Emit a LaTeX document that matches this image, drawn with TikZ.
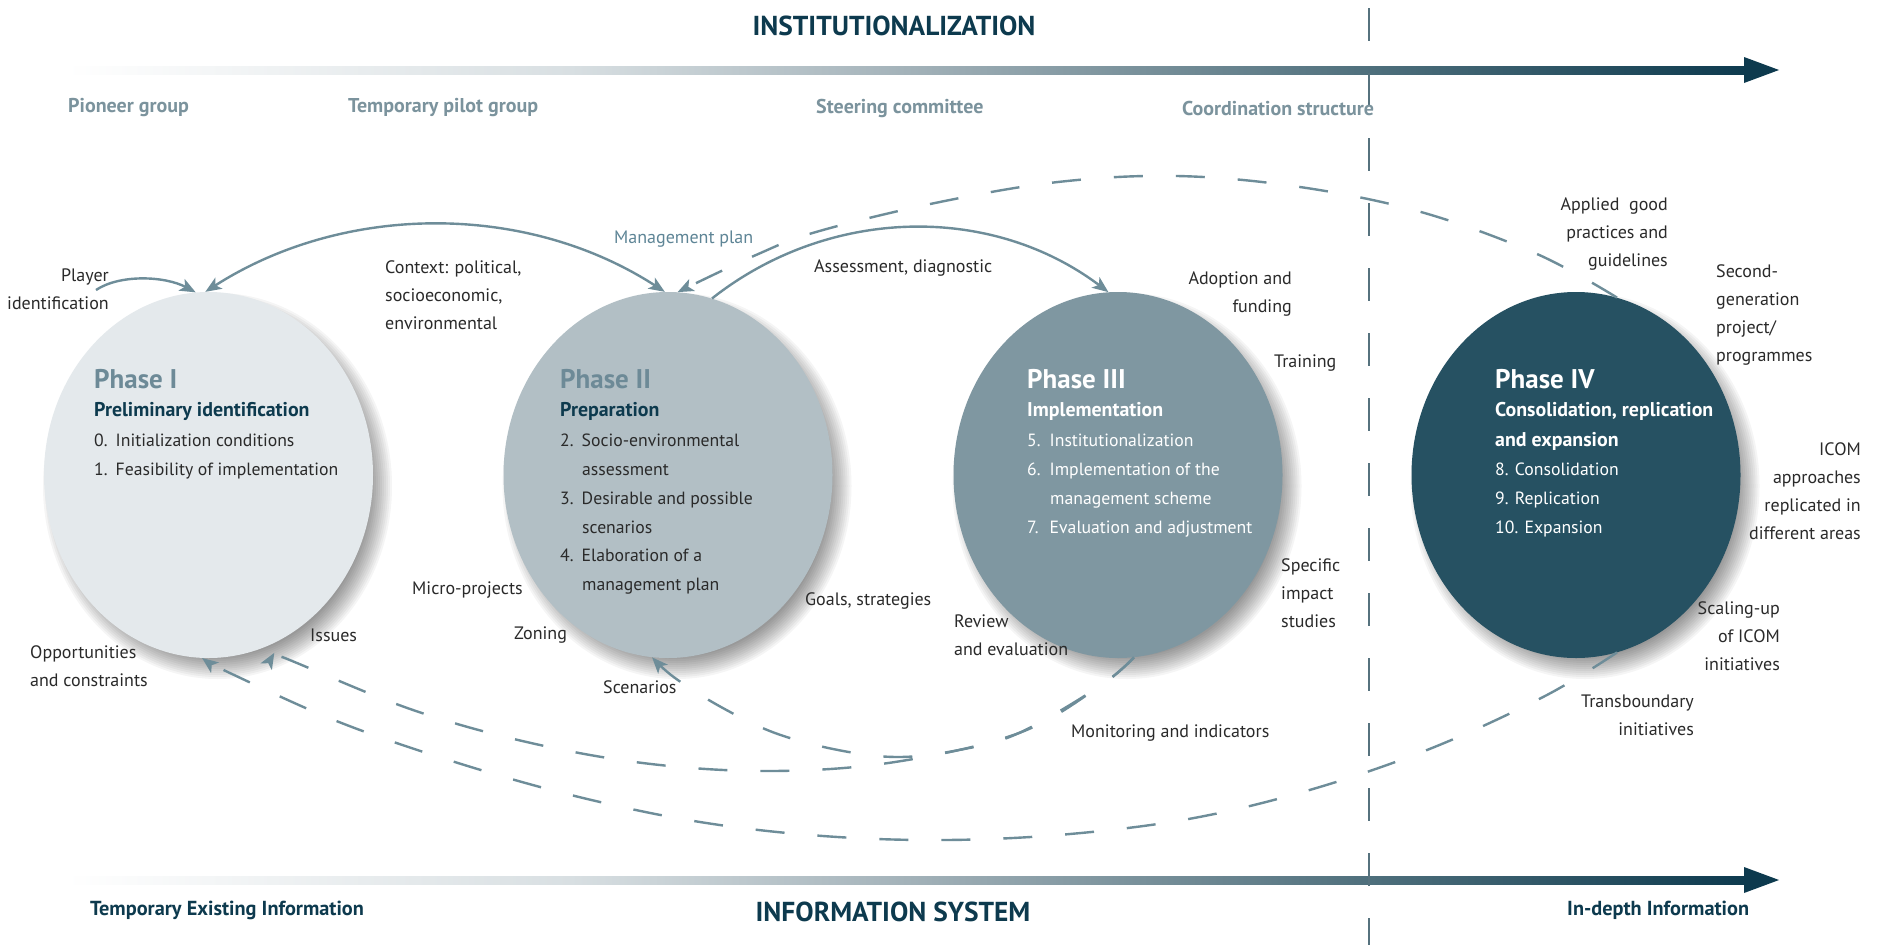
\documentclass[tikz,border=0pt]{standalone}
\usepackage{fontspec}
\setmainfont{PT Sans}
\usetikzlibrary{shapes.geometric,arrows.meta}
\definecolor{navy}{HTML}{0D3A4E}
\definecolor{topl}{HTML}{7B939D}
\definecolor{lnc}{HTML}{6E8D99}
\definecolor{vln}{HTML}{56727E}
\definecolor{pone}{HTML}{E4E9EC}
\definecolor{ptwo}{HTML}{B2BFC5}
\definecolor{pthree}{HTML}{7F97A1}
\definecolor{pfour}{HTML}{265162}
\definecolor{ttl}{HTML}{6D8A97}
\definecolor{txt}{HTML}{2A2A2A}
\definecolor{mgmt}{HTML}{5E8596}
\definecolor{barA}{HTML}{D8DFE2}
\definecolor{barB}{HTML}{A3B2B9}
\definecolor{barC}{HTML}{4D6E7B}
\pgfdeclarehorizontalshading{barshade}{100bp}{color(0bp)=(white); color(25bp)=(white); color(40bp)=(barA); color(50bp)=(barB); color(64bp)=(barC); color(75bp)=(navy); color(100bp)=(navy)}
\tikzset{
  phase/.style={ellipse, minimum width=329pt, minimum height=366pt, inner sep=0pt},
  shadowlayer/.style={fill=black, opacity=0.04},
  cline/.style={draw=lnc, line width=2.4pt},
  tipend/.style={-{Stealth[length=16pt,width=13pt,inset=4pt]}},
  dsh/.style={dash pattern=on 29pt off 33pt},
  lbl/.style={font=\fontsize{18}{28}\selectfont, text=txt, inner sep=0pt},
  toplbl/.style={font=\fontsize{20}{24}\selectfont\bfseries, text=topl, inner sep=0pt, anchor=west},
  botlbl/.style={font=\fontsize{20.3}{24}\selectfont\bfseries, text=navy, inner sep=0pt, anchor=west},
  bigttl/.style={font=\fontsize{27.4}{32}\selectfont\bfseries, text=navy, inner sep=0pt},
  phtitle/.style={font=\fontsize{27}{32}\selectfont\bfseries, inner sep=0pt, anchor=base west},
  phsub/.style={font=\fontsize{19.9}{29}\selectfont\bfseries, inner sep=0pt, anchor=base west},
  phitem/.style={font=\fontsize{17.7}{29}\selectfont, inner sep=0pt, anchor=base west},
}
\begin{document}
\begin{tikzpicture}[x=1pt,y=-1pt]
\fill[white] (0,0) rectangle (1881,945);
\useasboundingbox (0,0) rectangle (1881,945);

% gradient bars
\shade[shading=barshade] (66,66) rectangle (1748,74);
\fill[navy] (1744,57) -- (1779,70) -- (1744,83) -- cycle;
\shade[shading=barshade] (66,876) rectangle (1748,884);
\fill[navy] (1744,867) -- (1779,880) -- (1744,893) -- cycle;

% vertical dashed line
\coordinate (vt) at (1369,8);
\coordinate (vb) at (1369,945);
\draw[vln, line width=2pt, dash pattern=on 33pt off 32pt] (vt) -- (vb);

% titles
\node[bigttl] (inst) at (894,26) {INSTITUTIONALIZATION};
\node[bigttl] (infs) at (893,912) {INFORMATION SYSTEM};
\node[toplbl] (pion) at (68,108) {Pioneer group};
\node[toplbl] (tpg) at (348,108) {Temporary pilot group};
\node[toplbl] (stc) at (816,108) {Steering committee};
\node[toplbl] (cst) at (1182,108) {Coordination structure};
\node[botlbl] (tei) at (90,910) {Temporary Existing Information};
\node[botlbl] (idi) at (1567,910) {In-depth Information};

% soft shadows
\foreach \cx in {208.5,668,1118,1576} {
  \foreach \k in {0,...,11} {
    \fill[shadowlayer] (\cx+9,486) ellipse [x radius={174.5-2*\k}, y radius={193-2*\k}];
  }
}

% phases
\node[phase, fill=pone] (ph1) at (208.5,475) {};
\node[phase, fill=ptwo] (ph2) at (668,475) {};
\node[phase, fill=pthree] (ph3) at (1118,475) {};
\node[phase, fill=pfour] (ph4) at (1576,475) {};

% phase I text
\node[phtitle, text=ttl] (p1t) at (94,388) {Phase I};
\node[phsub, text=navy] (p1s) at (94,416) {Preliminary identification};
\node[phitem, text=txt] (p1a) at (94,446) {\makebox[21.5pt][l]{0.}Initialization conditions};
\node[phitem, text=txt] (p1b) at (94,475) {\makebox[21.5pt][l]{1.}Feasibility of implementation};
% phase II text
\node[phtitle, text=ttl] (p2t) at (560,388) {Phase II};
\node[phsub, text=navy] (p2s) at (560,416) {Preparation};
\node[phitem, text=txt] (p2a) at (560,446) {\makebox[21.5pt][l]{2.}Socio-environmental};
\node[phitem, text=txt] (p2b) at (582,475) {assessment};
\node[phitem, text=txt] (p2c) at (560,504) {\makebox[21.5pt][l]{3.}Desirable and possible};
\node[phitem, text=txt] (p2d) at (582,533) {scenarios};
\node[phitem, text=txt] (p2e) at (560,561) {\makebox[21.5pt][l]{4.}Elaboration of a};
\node[phitem, text=txt] (p2f) at (582,590) {management plan};
% phase III text
\node[phtitle, text=white] (p3t) at (1027,388) {Phase III};
\node[phsub, text=white] (p3s) at (1027,416) {Implementation};
\node[phitem, text=white] (p3a) at (1027,446) {\makebox[22.5pt][l]{5.}Institutionalization};
\node[phitem, text=white] (p3b) at (1027,475) {\makebox[22.5pt][l]{6.}Implementation of the};
\node[phitem, text=white] (p3c) at (1050,504) {management scheme};
\node[phitem, text=white] (p3d) at (1027,533) {\makebox[22.5pt][l]{7.}Evaluation and adjustment};
% phase IV text
\node[phtitle, text=white] (p4t) at (1495,388) {Phase IV};
\node[phsub, text=white] (p4s) at (1495,416) {Consolidation, replication};
\node[phsub, text=white] (p4u) at (1495,446) {and expansion};
\node[phitem, text=white] (p4a) at (1495,475) {8. Consolidation};
\node[phitem, text=white] (p4b) at (1495,504) {9. Replication};
\node[phitem, text=white] (p4c) at (1495,533) {10. Expansion};

% labels
\node[lbl, align=right, anchor=east] (plr) at (109,289) {Player\\identification};
\node[lbl, align=left, anchor=west] (ctx) at (385,295) {Context: political,\\socioeconomic,\\environmental};
\node[lbl, anchor=west, text=mgmt] (mpl) at (614,239) {Management plan};
\node[lbl, anchor=west] (asd) at (814,268) {Assessment, diagnostic};
\node[lbl, align=right, anchor=east] (adf) at (1292,294) {Adoption and\\funding};
\node[lbl, anchor=west] (trn) at (1274,363) {Training};
\node[lbl, align=left, anchor=west] (sis) at (1281,593) {Specific\\impact\\studies};
\node[lbl, align=left, anchor=west] (rev) at (954,635) {Review\\and evaluation};
\node[lbl, anchor=west] (mon) at (1071,733) {Monitoring and indicators};
\node[lbl, anchor=west] (gst) at (805,601) {Goals, strategies};
\node[lbl, anchor=west] (mic) at (412,590) {Micro-projects};
\node[lbl, anchor=west] (zon) at (514,635) {Zoning};
\node[lbl, anchor=west] (scn) at (603,687) {Scenarios};
\node[lbl, anchor=west] (iss) at (310,635) {Issues};
\node[lbl, align=left, anchor=west] (opp) at (30,666) {Opportunities\\and constraints};
\node[lbl, align=right, anchor=east] (agp) at (1668,234) {Applied\ \ good\\practices and\\guidelines};
\node[lbl, align=left, anchor=west] (sgp) at (1716,315) {Second-\\generation\\project/\\programmes};
\node[lbl, align=right, anchor=east] (ica) at (1861,491) {ICOM\\approaches\\replicated in\\different areas};
\node[lbl, align=right, anchor=east] (sci) at (1780,636) {Scaling-up\\of ICOM\\initiatives};
\node[lbl, align=right, anchor=east] (tbi) at (1694,715) {Transboundary\\initiatives};

% connectors
\coordinate (plst) at (96,290);
\draw[cline, tipend] (plst) .. controls (120,274) and (165,276) .. (ph1.94);
\draw[cline, {Stealth[length=16pt,width=13pt,inset=4pt]}-{Stealth[length=16pt,width=13pt,inset=4pt]}]
  (ph1.91) .. controls (344,203) and (526,202) .. (ph2.91);
\draw[cline, tipend] (ph2.76) .. controls (828,207) and (990,203) .. (ph3.93);
\draw[cline, dsh, tipend] plot[smooth, tension=0.6] coordinates
  {(ph4.77) (1537,254) (1421,212) (1300,187) (1177,176) (1058,182) (935,203) (816,232) (756,255) (ph2.87)};
\draw[cline, dsh, tipend] plot[smooth, tension=0.6] coordinates
  {(ph3.-85) (1100,686) (1019,733) (895,762) (773,771) (651,764) (531,743) (413,710) (297,663) ([shift={(4,8)}]ph1.-70)};
\draw[cline, dsh, tipend] plot[smooth, tension=0.6] coordinates
  {(ph3.-85) (1100,686) (1019,733) (959,750) (898,757) (838,750) (775,733) (721,707) (675,678) (ph2.-95)};
\draw[cline, dsh, tipend] plot[smooth, tension=0.6] coordinates
  {(ph4.-77) (1545,696) (1432,748) (1313,789) (1194,818) (1070,834) (946,840) (823,836) (700,822) (579,797) (458,763) (339,722) (232,674) (ph1.-92)};
\end{tikzpicture}
\end{document}
